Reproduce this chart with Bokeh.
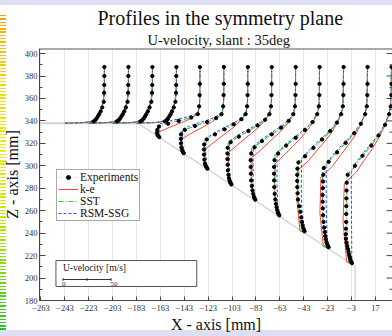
import math
from bokeh.plotting import figure
from bokeh.models import Range1d, FixedTicker, Title, Legend, LegendItem
from bokeh.embed import file_html
from bokeh.resources import INLINE
from bokeh.core.properties import value

FONT = "Liberation Serif"

# ---------------- data ----------------
STATIONS = [-243, -223, -203, -183, -163, -143, -123, -103, -83, -63, -43, -23, -3]
X_TICKS = [-263, -243, -223, -203, -183, -163, -143, -123, -103, -83, -63, -43, -23, -3, 17]
Z_TICKS = [180, 200, 220, 240, 260, 280, 300, 320, 340, 360, 380, 400]
Z_MINOR = [190, 210, 230, 250, 270, 290, 310, 330, 350, 370, 390]
SCALE = 0.806          # mm of plot per m/s of velocity (50 m/s bar)
ROOF_Z = 338.0
SLANT_X0 = -182.0
SLANT_DEG = 35.0

FLAT_Z = [338, 338.4, 339, 340, 342, 345, 349, 353, 357, 362, 372, 386]
FLAT_EXP_Z = [388, 380, 372, 365, 357, 352, 348.5, 346, 344, 342, 340.5, 339.5]

KE_Z = [
    FLAT_Z, FLAT_Z, FLAT_Z, FLAT_Z,
    [324.7, 326, 328, 330, 332.8, 335.7, 338.5, 341.3, 344.2, 347, 353, 362, 386],
    [310.7, 312.2, 318, 324, 327.8, 331.7, 335.5, 339.3, 343.2, 347, 353, 362, 386],
    [296.7, 298.2, 306, 315, 320.3, 325.7, 331, 336.3, 341.7, 347, 353, 362, 386],
    [282.7, 284.2, 297, 312, 317.8, 323.7, 329.5, 335.3, 341.2, 347, 353, 362, 386],
    [268.7, 270.2, 288, 307.5, 314.1, 320.7, 327.3, 333.8, 340.4, 347, 353, 362, 386],
    [254.7, 256.2, 278, 302, 309.5, 317, 324.5, 332, 339.5, 347, 353, 362, 386],
    [240.7, 242.2, 268, 296, 304.5, 313, 321.5, 330, 338.5, 347, 353, 362, 386],
    [226.7, 228.2, 258, 290, 299.5, 309, 318.5, 328, 337.5, 347, 353, 362, 386],
    [212.7, 214.2, 250, 284, 294.5, 305, 315.5, 326, 336.5, 347, 353, 362, 386],
]
KE_U = [
    [0, 17.5, 24, 28, 31.5, 34, 36.4, 38.3, 39.6, 40.5, 40.9, 41],
    [0, 16.5, 23, 27.5, 31, 33.6, 36, 38, 39.5, 40.5, 41.1, 41.2],
    [0, 16.5, 23, 27, 30.5, 33.2, 35.7, 37.8, 39.4, 40.5, 41.2, 41.3],
    [0, 17, 23.5, 27.5, 31, 33.6, 36, 38, 39.6, 40.6, 41.3, 41.4],
    [0, -1.5, -2.5, -2, 5.5, 13.5, 22, 29.5, 35, 39, 40.5, 41, 41],
    [0, -2, -3, -2.5, 5, 13, 21.5, 29, 35, 39, 40.5, 41, 41],
    [0, -2.2, -3.5, -3, 5, 13, 21.5, 29, 35.2, 39, 40.5, 41, 41.1],
    [0, -2.5, -4, -3.5, 4.5, 12.5, 21, 28.8, 35, 39, 40.5, 41, 41.1],
    [0, -2.8, -4.5, -4, 5, 13, 21.5, 29, 35, 39.2, 40.5, 41, 41.1],
    [0, -3.2, -5.5, -4.8, 4.5, 12.8, 21.5, 29, 35, 39, 40.5, 41, 41.1],
    [0, -4, -7, -6.2, 5, 13, 21.5, 29.2, 35, 39, 40.6, 41, 41.2],
    [0, -4.5, -8, -7, 4.8, 13, 21.5, 29, 35, 39, 40.5, 41, 41.3],
    [0, -5, -8.8, -7.5, 5, 13.2, 21.8, 29, 35, 39, 40.5, 41.1, 41.4],
]

SST_Z = [
    FLAT_Z, FLAT_Z, FLAT_Z, FLAT_Z,
    [324.7, 326, 330, 335, 336.8, 338.7, 340.5, 342.3, 344.2, 346, 352, 362, 386],
    [310.7, 312.2, 320, 330.6, 333.2, 335.7, 338.3, 340.9, 343.4, 346, 352, 362, 386],
    [296.7, 298.2, 310, 322.5, 326.4, 330.3, 334.3, 338.2, 342.1, 346, 352, 362, 386],
    [282.7, 284.2, 300, 319.9, 324.3, 328.6, 333, 337.3, 341.7, 346, 352, 362, 386],
    [268.7, 270.2, 292, 315.4, 320.5, 325.6, 330.7, 335.8, 340.9, 346, 352, 362, 386],
    [254.7, 256.2, 283, 310, 316, 322, 328, 334, 340, 346, 352, 362, 386],
    [240.7, 242.2, 272, 303.8, 310.8, 317.9, 324.9, 331.9, 339, 346, 352, 362, 386],
    [226.7, 228.2, 262, 298.5, 306.4, 314.3, 322.3, 330.2, 338.1, 346, 352, 362, 386],
    [212.7, 214.2, 250, 291.4, 300.5, 309.6, 318.7, 327.8, 336.9, 346, 352, 362, 386],
]
SST_U = [
    [0, 19.5, 26, 29.5, 32.5, 35, 37.3, 39, 40.2, 40.8, 41, 41],
    [0, 18.5, 25.5, 29, 32, 34.6, 37, 38.8, 40.1, 40.9, 41.2, 41.2],
    [0, 18.5, 25, 28.8, 31.7, 34.3, 36.8, 38.7, 40, 40.9, 41.3, 41.3],
    [0, 19, 25.5, 29.2, 32.1, 34.6, 37.1, 38.9, 40.2, 41, 41.4, 41.4],
    [0, -2, -3, -3, 4, 12, 21, 29, 35, 39, 40.5, 41, 41],
    [0, -2.2, -3.5, -3.3, 4, 12, 21, 29, 35, 39, 40.5, 41, 41],
    [0, -2.5, -4, -3.8, 4, 12.2, 21, 29, 35, 39, 40.5, 41, 41.1],
    [0, -2.8, -4.5, -4.2, 3.8, 12, 21, 29, 35, 39, 40.5, 41, 41.1],
    [0, -3, -5, -4.6, 4, 12, 21.2, 29, 35, 39, 40.5, 41, 41.1],
    [0, -3.2, -5.5, -5, 4, 12, 21, 29, 35.2, 39, 40.5, 41, 41.1],
    [0, -3.5, -6, -5.5, 4, 12, 21, 29, 35, 39, 40.5, 41, 41.2],
    [0, -3.2, -5.5, -5.2, 4.2, 12, 21, 29, 35, 39, 40.5, 41, 41.3],
    [0, -3, -5, -4.8, 4, 12, 21, 29.2, 35, 39, 40.5, 41, 41.4],
]

RSM_Z = [
    FLAT_Z, FLAT_Z, FLAT_Z, FLAT_Z,
    [324.7, 326, 331, 337, 338.8, 340.5, 342.3, 344, 345.8, 347.5, 353, 362, 386],
    [310.7, 312.2, 321, 332.6, 335.1, 337.6, 340, 342.5, 345, 347.5, 353, 362, 386],
    [296.7, 298.2, 311, 324.5, 328.3, 332.2, 336, 339.8, 343.7, 347.5, 353, 362, 386],
    [282.7, 284.2, 302, 322, 326.3, 330.5, 334.8, 339, 343.3, 347.5, 353, 362, 386],
    [268.7, 270.2, 294, 317.5, 322.5, 327.5, 332.5, 337.5, 342.5, 347.5, 353, 362, 386],
    [254.7, 256.2, 284, 312, 317.9, 323.8, 329.8, 335.7, 341.6, 347.5, 353, 362, 386],
    [240.7, 242.2, 274, 306, 312.9, 319.8, 326.8, 333.7, 340.6, 347.5, 353, 362, 386],
    [226.7, 228.2, 264, 301, 308.8, 316.5, 324.3, 332, 339.8, 347.5, 353, 362, 386],
    [212.7, 214.2, 252, 294, 302.9, 311.8, 320.8, 329.7, 338.6, 347.5, 353, 362, 386],
]
RSM_U = [
    [0, 18.5, 25, 29, 32, 34.6, 37, 38.8, 40, 40.7, 41, 41.1],
    [0, 18, 24.5, 28.5, 31.6, 34.3, 36.8, 38.7, 40, 40.8, 41.2, 41.3],
    [0, 17.5, 24, 28.2, 31.3, 34, 36.6, 38.6, 39.9, 40.8, 41.3, 41.4],
    [0, 18, 24.5, 28.6, 31.7, 34.3, 36.8, 38.8, 40.1, 40.9, 41.4, 41.5],
    [0, -1, -1.5, -1.5, 4.5, 12.5, 21.5, 29.5, 35.5, 39, 40.5, 41, 41.1],
    [0, -1.2, -2, -1.8, 4.5, 12.5, 21.5, 29.5, 35.5, 39, 40.5, 41, 41.1],
    [0, -1.5, -2.5, -2.3, 4.5, 12.5, 21.5, 29.5, 35.5, 39, 40.5, 41, 41.2],
    [0, -1.8, -3, -2.8, 4.5, 12.5, 21.5, 29.5, 35.5, 39, 40.5, 41, 41.2],
    [0, -1.8, -3, -2.8, 4.5, 12.5, 21.5, 29.5, 35.5, 39, 40.5, 41, 41.2],
    [0, -1.8, -3, -2.8, 4.5, 12.5, 21.5, 29.5, 35.5, 39, 40.5, 41, 41.2],
    [0, -1.2, -2.5, -2.3, 4.5, 12.5, 21.5, 29.5, 35.5, 39, 40.5, 41, 41.3],
    [0, -0.5, -1.5, -1.5, 4.5, 12.5, 21.5, 29.5, 35.5, 39, 40.5, 41, 41.4],
    [0, 0.3, 0, -0.3, 4.5, 12.5, 21.5, 29.5, 35.5, 39, 40.5, 41, 41.5],
]

EXP_Z = [
    FLAT_EXP_Z, FLAT_EXP_Z, FLAT_EXP_Z, FLAT_EXP_Z,
    [388, 373, 363, 353, 346, 343, 340, 337.5, 335, 332, 329.5, 327.5, 326.5, 325.5],
    [388, 373, 363, 353, 346, 342.5, 339, 335.5, 332, 328, 324, 320, 316.5, 314.5, 313, 312, 311.2],
    [388, 373, 363, 353, 346, 341.5, 337, 332.5, 328, 323.5, 319, 314.5, 310, 305.5, 302, 300.5,
     299.2, 298.2, 297.4],
    [388, 373, 363, 353, 346, 341, 336, 331, 326, 321, 316, 311, 306, 301, 296, 292, 289, 287,
     285.5, 284.3, 283.4],
    [388, 373, 363, 353, 346, 340, 334, 328, 322, 316.5, 311, 305, 299, 293, 287, 282, 278, 275,
     272.5, 271, 269.8],
    [388, 373, 363, 353, 346, 339, 332, 325, 318, 311, 305, 299, 293, 287, 281, 275, 270, 266,
     263, 260.5, 258.5, 257, 255.8],
    [388, 373, 363, 353, 346, 338.5, 331, 323.5, 316, 308.5, 303, 297.5, 292, 286.5, 281, 275.5,
     270, 264, 259, 254, 250, 247, 244.5, 242.8, 241.6],
    [388, 373, 363, 353, 346, 337.5, 329, 320.5, 312, 303.5, 298, 292, 286, 280, 274, 268, 262,
     256, 250, 245, 241, 237.5, 234.5, 232, 230, 228.5, 227.4],
    [388, 373, 363, 353, 346, 336.5, 327, 318, 309, 300, 292, 285, 278, 271, 264, 257, 250, 244,
     239, 235, 231.5, 228.5, 226, 223.5, 221, 219, 217, 215.5, 214.2, 213.3],
]
EXP_U = [
    [41, 41, 40.9, 40.8, 40.4, 38.8, 37.2, 35.6, 34.2, 32.8, 31.4, 29.8],
    [41.2, 41.1, 41, 40.9, 40.3, 38.6, 36.9, 35.3, 33.9, 32.4, 31, 29.2],
    [41.3, 41.2, 41.1, 40.9, 40.2, 38.4, 36.6, 35, 33.6, 32.1, 30.6, 28.8],
    [41.4, 41.3, 41.2, 41, 40.4, 38.7, 36.9, 35.4, 34, 32.6, 31.2, 29.5],
    [41, 40.9, 40.7, 40.2, 38.8, 32, 19, 8, -1.5, -3.2, -3.6, -3, -2.2, -1.2],
    [41.1, 41, 40.8, 40.3, 38.6, 33, 23.5, 11, 0.5, -3.4, -3.6, -3.5, -3, -2.4, -1.8, -1.2, -0.6],
    [41.2, 41.1, 40.9, 40.4, 38.8, 34.5, 26.5, 17, 7, -1.5, -4.2, -4.5, -4.4, -4, -3.4, -2.8,
     -2.1, -1.5, -0.8],
    [41.2, 41.1, 40.9, 40.4, 38.8, 34.3, 26.5, 17, 7, -1.5, -4.6, -4.9, -4.9, -4.7, -4.4, -3.8,
     -3.2, -2.6, -2, -1.4, -0.7],
    [41.3, 41.2, 41, 40.5, 38.8, 34, 26, 16.3, 6.2, -1.5, -5, -5.5, -5.5, -5.3, -5, -4.4, -3.6,
     -2.9, -2.1, -1.4, -0.7],
    [41.3, 41.2, 41, 40.5, 38.8, 34, 26, 16.5, 6.5, -1.8, -5.6, -6, -6.1, -6, -5.8, -5.4, -4.8,
     -4.1, -3.4, -2.7, -2, -1.3, -0.6],
    [41.4, 41.3, 41.1, 40.6, 38.9, 34.5, 27.5, 19, 10, 1.3, -5.5, -6.6, -6.8, -6.8, -6.7, -6.4,
     -6, -4.6, -3.5, -2.6, -1.8, -1.1, -0.5, 0.2, 0.8],
    [41.5, 41.4, 41.2, 40.7, 39, 34.5, 27.5, 18.8, 9.8, 1, -4, -4.5, -4.8, -5, -5.2, -5.2, -5,
     -4.7, -4.2, -3.6, -3, -2.4, -1.8, -1.1, -0.4, 0.3, 1],
    [41.6, 41.5, 41.3, 40.8, 39.1, 34.8, 28, 20.5, 11.4, 3.5, -4, -5, -5.2, -5.3, -5.4, -5.5,
     -5.6, -5.8, -6, -5.8, -5.2, -4.5, -3.8, -3.2, -2.6, -2, -1.4, -0.8, -0.2, 0.4],
]

# ---------------- figure ----------------
X0, X1 = -264.25, 31.3
Z0, Z1 = 180.0, 404.5

page_bg = {
    "background-color": "#ffffff",
    "background-image": ", ".join([
        "linear-gradient(#dedff4, #dedff4)",
        "linear-gradient(#dedff4, #dedff4)",
        "repeating-linear-gradient(to bottom, rgba(255,255,255,0) 0px, rgba(255,255,255,0) 1.4px, "
        "#ffffff 1.4px, #ffffff 3.3px)",
        "linear-gradient(to bottom, #f6a400 0%, #f7d400 18%, #f2ec00 40%, #c8ea00 62%, "
        "#7edc00 82%, #1ec81e 100%)",
    ]),
    "background-size": "392px 5px, 392px 6px, 6px 315px, 6px 315px",
    "background-position": "0px 0px, 0px 330px, 0px 15px, 0px 15px",
    "background-repeat": "no-repeat",
}

p = figure(width=392, height=336, x_range=Range1d(X0, X1), y_range=Range1d(Z0, Z1),
           output_backend="svg", toolbar_location=None,
           min_border_left=38, min_border_right=0, min_border_top=48, min_border_bottom=36,
           background_fill_color="white", border_fill_color=None, styles=page_bg)
p.outline_line_color = None

# body outline
tan_a = math.tan(math.radians(SLANT_DEG))
base_z = ROOF_Z - (0 - SLANT_X0) * tan_a
p.line([-300, SLANT_X0], [ROOF_Z, ROOF_Z], line_color="#d2d2d2", line_width=2)
p.line([SLANT_X0, 0, 0], [ROOF_Z, base_z, 150], line_color="#cfcfcf", line_width=1.2)


def to_x(zs_list, us_list):
    xs, ys = [], []
    for s, zz, uu in zip(STATIONS, zs_list, us_list):
        xs.append([s + SCALE * u for u in uu])
        ys.append(list(zz))
    return xs, ys


ke_x, ke_y = to_x(KE_Z, KE_U)
sst_x, sst_y = to_x(SST_Z, SST_U)
rsm_x, rsm_y = to_x(RSM_Z, RSM_U)
ex_x, ex_y = to_x(EXP_Z, EXP_U)

r_ke = p.multi_line(ke_x, ke_y, line_color="#ff4444", line_width=1)
r_sst = p.multi_line(sst_x, sst_y, line_color="#22dd22", line_width=1.1, line_dash="5 2 1 2")
r_rsm = p.multi_line(rsm_x, rsm_y, line_color="#3a4bff", line_width=1, line_dash="3 2")
r_exl = p.multi_line(ex_x, ex_y, line_color="#9a9a9a", line_width=0.8, line_dash="1 2", line_alpha=0.8)
flat_x = [v for l in ex_x for v in l]
flat_y = [v for l in ex_y for v in l]
r_exp = p.scatter(flat_x, flat_y, marker="circle", size=3.3, fill_color="#000000", line_color="#000000")

# frame top edge and inner ticks on the right edge
p.segment(x0=[X0], y0=[Z1], x1=[X1], y1=[Z1], line_color="#555555", line_width=2)
p.segment(x0=[X1 - 5.0] * len(Z_TICKS), y0=Z_TICKS, x1=[X1] * len(Z_TICKS), y1=Z_TICKS,
          line_color="#444444", line_width=1)
p.segment(x0=[X1 - 2.5] * len(Z_MINOR), y0=Z_MINOR, x1=[X1] * len(Z_MINOR), y1=Z_MINOR,
          line_color="#444444", line_width=1)

# scale-bar box
p.quad(left=[-250.5], right=[-132.6], bottom=[192.5], top=[215.6], fill_color="white",
       line_color="#555555", line_width=1)
bar_x0 = -244.6
bar_z = 198.7
p.segment(x0=[bar_x0], y0=[bar_z], x1=[bar_x0 + 50 * SCALE], y1=[bar_z], line_color="#333", line_width=1)
tick_u = [0, 25, 50]
p.segment(x0=[bar_x0 + SCALE * u for u in tick_u], y0=[bar_z - 1.2] * 3,
          x1=[bar_x0 + SCALE * u for u in tick_u], y1=[bar_z + 1.2] * 3, line_color="#333", line_width=1)
p.text(x=[bar_x0], y=[209.0], text=["U-velocity [m/s]"], text_font=value(FONT), text_font_size="9.5px",
       text_align="left", text_baseline="middle", text_color="#222")
p.text(x=[bar_x0 - 0.8, bar_x0 + 50 * SCALE - 0.5], y=[194.6, 194.6], text=["0", "50"],
       text_font=value(FONT), text_font_size="7px", text_align="left", text_baseline="middle",
       text_color="#333")

# axes
xa = p.xaxis[0]
xa.ticker = FixedTicker(ticks=X_TICKS)
ya = p.yaxis[0]
ya.ticker = FixedTicker(ticks=Z_TICKS, minor_ticks=Z_MINOR)
for ax in (xa, ya):
    ax.axis_line_color = "#444444"
    ax.major_tick_line_color = "#444444"
    ax.minor_tick_line_color = "#444444"
    ax.major_tick_out = 0
    ax.minor_tick_out = 0
    ax.major_label_text_font = FONT
    ax.major_label_text_font_size = "8.5px"
    ax.major_label_text_color = "#333333"
    ax.axis_label_text_font = FONT
    ax.axis_label_text_font_size = "16px"
    ax.axis_label_text_font_style = "normal"
    ax.axis_label_text_color = "#111111"
xa.major_label_standoff = 4
xa.axis_label_standoff = 2
ya.major_label_standoff = 2
ya.axis_label_standoff = 1
xa.major_tick_in = 4
xa.minor_tick_in = 0
ya.major_tick_in = 6
ya.minor_tick_in = 3
xa.axis_label = "X - axis [mm]"
ya.axis_label = "Z - axis [mm]"

p.xgrid.ticker = FixedTicker(ticks=X_TICKS)
p.xgrid.grid_line_color = "#e6e6e6"
p.ygrid.visible = False

# titles (subtitle first so that it sits closest to the frame)
sub = Title(text="U-velocity, slant : 35deg", align="left", offset=108, text_font=FONT,
            text_font_size="14.5px", text_font_style="normal", text_color="#111111", standoff=2)
p.add_layout(sub, "above")
main = Title(text="Profiles in the symmetry plane", align="left", offset=58, text_font=FONT,
             text_font_size="20px", text_font_style="normal", text_color="#111111", standoff=0)
p.add_layout(main, "above")

legend = Legend(items=[LegendItem(label="Experiments", renderers=[r_exl, r_exp]),
                       LegendItem(label="k-e", renderers=[r_ke]),
                       LegendItem(label="SST", renderers=[r_sst]),
                       LegendItem(label="RSM-SSG", renderers=[r_rsm])],
                location=(17, 79), label_text_font=FONT, label_text_font_size="11.5px",
                label_text_color="#111111", glyph_width=20, glyph_height=10, label_height=10,
                label_standoff=2, padding=1, spacing=-1, margin=0,
                border_line_color="#555555", border_line_width=1, background_fill_alpha=1)
p.add_layout(legend)

open("out.html", "w").write(file_html(p, INLINE))
